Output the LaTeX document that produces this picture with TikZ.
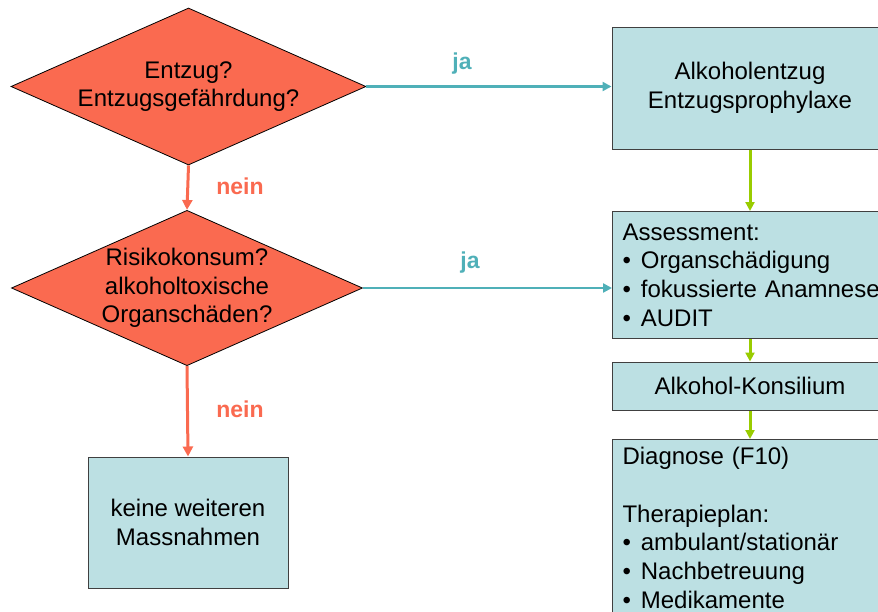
\documentclass[tikz,border=0pt]{standalone}
\usepackage{fontspec}
\setmainfont{Liberation Sans}
\usetikzlibrary{shapes.geometric,arrows.meta}
\definecolor{dia}{HTML}{FA6A50}
\definecolor{boxc}{HTML}{BCE0E3}
\definecolor{teal2}{HTML}{4FB0B8}
\definecolor{green2}{HTML}{99CC00}
\definecolor{salm}{HTML}{FA6A50}
\newcommand{\bul}{•\hspace{10pt}}
\tikzset{
  every node/.style={font=\fontsize{24}{28.7}\selectfont},
  decision/.style={diamond, draw=black, line width=0.8pt, fill=dia, inner sep=0pt, aspect=2.26, align=center},
  infobox/.style={rectangle, draw=black!75, line width=1pt, fill=boxc, inner sep=0pt, align=center},
  listbox/.style={rectangle, draw=black!75, line width=1pt, fill=boxc, inner xsep=10pt, inner ysep=5pt, align=left, text width=300pt, anchor=north west},
  yesarrow/.style={draw=teal2, line width=2.5pt, -{Triangle[width=9pt,length=9pt]}},
  noarrow/.style={draw=salm, line width=3pt, -{Triangle[width=10pt,length=10pt]}},
  seqarrow/.style={draw=green2, line width=3pt, -{Triangle[width=9pt,length=9pt]}},
  yeslabel/.style={text=teal2, font=\fontsize{23}{25}\selectfont\bfseries},
  nolabel/.style={text=salm, font=\fontsize{23}{25}\selectfont\bfseries},
}
\begin{document}
\begin{tikzpicture}[x=1pt,y=-1pt]
\useasboundingbox (0,0) rectangle (878,611);
\clip (0,0) rectangle (878,611);
% decisions
\node[decision, minimum width=355pt, minimum height=157pt] (d1) at (188.5,86.5) {Entzug?\\Entzugsgefährdung?};
\node[decision, minimum width=351pt, minimum height=152pt] (d2) at (187,288) {Risikokonsum?\\alkoholtoxische\\Organschäden?};
% boxes
\node[infobox, minimum width=200pt, minimum height=131pt] (k) at (188,522.5) {keine weiteren\\ Massnahmen};
\node[infobox, minimum width=276pt, minimum height=122pt] (b1) at (750,88) {Alkoholentzug\\Entzugsprophylaxe};
\node[listbox, minimum height=127pt] (b2) at (612,211) {Assessment:\\\bul Organschädigung\\\bul fokussierte Anamnese\\\bul AUDIT};
\node[infobox, minimum width=276pt, minimum height=48pt] (b3) at (750,386) {Alkohol-Konsilium};
\node[listbox, inner ysep=8pt] (b4) at (612,439) {Diagnose (F10)\\[28.7pt]Therapieplan:\\\bul ambulant/stationär\\\bul Nachbetreuung\\\bul Medikamente\rule[-40pt]{0pt}{0pt}};
% connectors
\draw[yesarrow] (d1.east) -- (d1.east -| b1.west);
\draw[yesarrow] (d2.east) -- (d2.east -| b2.west);
\draw[noarrow] (d1.south) -- (d2.north);
\draw[noarrow] (d2.south) -- (k.north);
\draw[seqarrow] (b1.south) -- (b1.south |- b2.north);
\draw[seqarrow] (b1.south |- b2.south) -- (b3.north);
\draw[seqarrow] (b3.south) -- (b3.south |- b4.north);
% labels
\node[yeslabel] (ja1) at (462,64) {ja};
\node[yeslabel] (ja2) at (470,263) {ja};
\node[nolabel] (n1) at (240,186) {nein};
\node[nolabel] (n2) at (240,409) {nein};
\end{tikzpicture}
\end{document}
